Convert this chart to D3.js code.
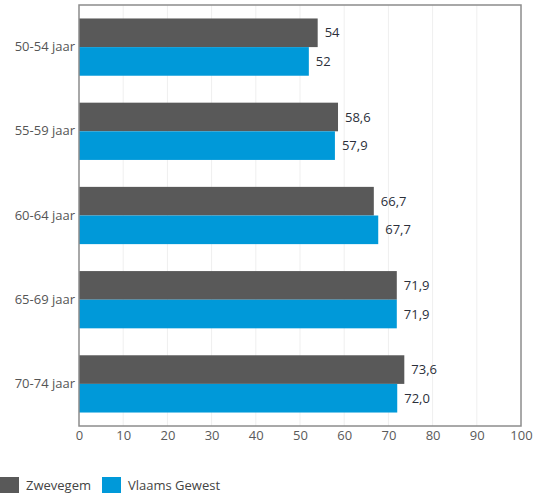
<!DOCTYPE html>
<html><head><meta charset="utf-8">
<script src="https://cdn.jsdelivr.net/npm/d3@7"></script>
<style>body{margin:0;background:#fff;}svg{display:block;font-family:"Open Sans",sans-serif;}</style>
</head><body><svg id="c" width="536" height="493"></svg>
<script>
const categories = ["50-54 jaar","55-59 jaar","60-64 jaar","65-69 jaar","70-74 jaar"];
const seriesNames = ["Zwevegem","Vlaams Gewest"];
const zwevegem = [54, 58.6, 66.7, 71.9, 73.6];
const vlaams = [52, 57.9, 67.7, 71.9, 72.0];
const zwevegemLabels = ["54","58,6","66,7","71,9","73,6"];
const vlaamsLabels = ["52","57,9","67,7","71,9","72,0"];
const xTicks = [0,10,20,30,40,50,60,70,80,90,100];
const colors = ["#595959","#0099d9"];

const svg = d3.select("#c");
const L = 79, R = 521, T = 5, B = 426;
const x = d3.scaleLinear().domain([0,100]).range([L,R]);
const y = d3.scaleBand().domain(categories).range([T,B]).paddingInner(0.32).paddingOuter(0.16);
const sub = d3.scaleBand().domain(seriesNames).range([0,y.bandwidth()]);

// grid
svg.append("g").selectAll("line").data(xTicks.slice(1,-1)).join("line")
  .attr("x1",d=>x(d)).attr("x2",d=>x(d)).attr("y1",T).attr("y2",B)
  .attr("stroke","#efefef").attr("stroke-width",1);

const series = [zwevegem, vlaams];
const labels = [zwevegemLabels, vlaamsLabels];
series.forEach((vals, si) => {
  const g = svg.append("g");
  g.selectAll("rect").data(vals).join("rect")
    .attr("x", L)
    .attr("y", (d,i)=>y(categories[i]) + sub(seriesNames[si]))
    .attr("width", d=>x(d)-L)
    .attr("height", sub.bandwidth())
    .attr("fill", colors[si]);
  g.selectAll("text").data(vals).join("text")
    .attr("x", d=>x(d)+7)
    .attr("y", (d,i)=>y(categories[i]) + sub(seriesNames[si]) + sub.bandwidth()/2)
    .attr("dy","0.35em")
    .attr("font-size",13).attr("fill","#2b2f3a")
    .text((d,i)=>labels[si][i]);
});

// frame
svg.append("rect").attr("x",L).attr("y",T).attr("width",R-L).attr("height",B-T)
  .attr("fill","none").attr("stroke","#8c8c8c").attr("stroke-width",1.5);

// category labels
const yAxis = svg.append("g").attr("transform",`translate(${L},0)`)
  .call(d3.axisLeft(y).tickSize(0).tickPadding(4));
yAxis.select(".domain").remove();
yAxis.selectAll("text").attr("font-size",13).attr("fill","#555").attr("font-family","Open Sans, sans-serif");

// x axis labels
const xAxis = svg.append("g").attr("transform",`translate(0,${B})`)
  .call(d3.axisBottom(x).tickValues(xTicks).tickSize(0).tickPadding(5).tickFormat(d3.format("d")));
xAxis.select(".domain").remove();
xAxis.selectAll("text").attr("font-size",13).attr("fill","#5a5a5a").attr("font-family","Open Sans, sans-serif");

// legend
const lg = svg.append("g");
const lx = [0, 102];
seriesNames.forEach((n,i)=>{
  lg.append("rect").attr("x",lx[i]).attr("y",477).attr("width",19).attr("height",17).attr("fill",colors[i]);
  lg.append("text").attr("x",lx[i]+26).attr("y",490).attr("font-size",13).attr("fill","#444").text(n);
});
</script></body></html>
